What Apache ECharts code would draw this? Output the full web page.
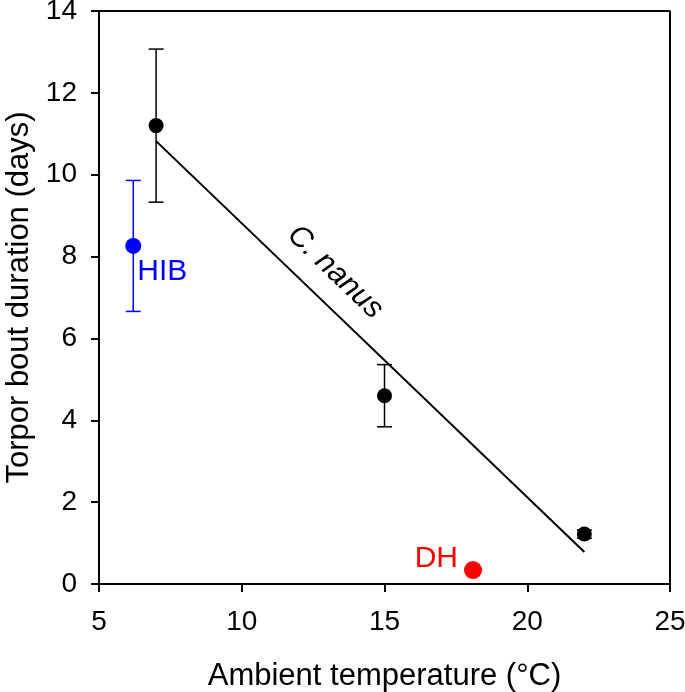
<!DOCTYPE html>
<html>
<head>
<meta charset="utf-8">
<script src="https://cdn.jsdelivr.net/npm/echarts@6/dist/echarts.min.js"></script>
<style>html,body{margin:0;padding:0;background:#fff}#c{width:685px;height:692px}</style>
</head>
<body>
<div id="c"></div>
<script>
// C. nanus: temperature, mean torpor bout duration, SE
const nanusTemp = [7, 15, 22];
const nanusMean = [11.2, 4.6, 1.22];
const nanusErr = [1.87, 0.76, 0.1];
// HIB
const hibTemp = [6.2];
const hibMean = [8.26];
const hibErr = [1.6];
// DH
const dhTemp = [18.1];
const dhMean = [0.34];
// regression line endpoints
const regTemp = [7, 22];
const regVal = [10.82, 0.78];
// label anchor for species name
const speciesLabel = [[13.27, 7.62, 'C. nanus']];
const xTicks = [5, 10, 15, 20, 25];
const yTicks = [0, 2, 4, 6, 8, 10, 12, 14];

const FONT = 'Liberation Sans, Arial, sans-serif';

function errSeries(xs, ms, es, color, cap) {
  return {
    type: 'custom',
    data: xs.map((x, i) => [x, ms[i] - es[i], ms[i] + es[i]]),
    renderItem: function (params, api) {
      const lo = api.coord([api.value(0), api.value(1)]);
      const hi = api.coord([api.value(0), api.value(2)]);
      const style = { stroke: color, lineWidth: 1.5 };
      return {
        type: 'group',
        children: [
          { type: 'line', shape: { x1: lo[0], y1: lo[1], x2: hi[0], y2: hi[1] }, style: style },
          { type: 'line', shape: { x1: lo[0] - cap, y1: lo[1], x2: lo[0] + cap, y2: lo[1] }, style: style },
          { type: 'line', shape: { x1: hi[0] - cap, y1: hi[1], x2: hi[0] + cap, y2: hi[1] }, style: style }
        ]
      };
    },
    z: 2,
    silent: true
  };
}

const chart = echarts.init(document.getElementById('c'));
chart.setOption({
  animation: false,
  grid: { left: 99, right: 15, top: 11, bottom: 108, containLabel: false, outerBoundsMode: 'none' },
  xAxis: {
    type: 'value', min: 5, max: 25, interval: 5,
    name: 'Ambient temperature (°C)', nameLocation: 'middle', nameGap: 77,
    nameTextStyle: { fontFamily: FONT, fontSize: 31, color: '#000' },
    axisLine: { show: true, onZero: false, lineStyle: { color: '#000', width: 2 } },
    axisTick: { show: true, inside: false, length: 8, lineStyle: { color: '#000', width: 2 } },
    axisLabel: { fontFamily: FONT, fontSize: 28, color: '#000', margin: 24,
      formatter: v => xTicks.includes(v) ? String(v) : '' },
    splitLine: { show: false }
  },
  yAxis: {
    type: 'value', min: 0, max: 14, interval: 2,
    name: 'Torpor bout duration (days)', nameLocation: 'middle', nameGap: 63,
    nameTextStyle: { fontFamily: FONT, fontSize: 31, color: '#000' },
    axisLine: { show: true, onZero: false, lineStyle: { color: '#000', width: 2 } },
    axisTick: { show: true, inside: false, length: 8, lineStyle: { color: '#000', width: 2 } },
    axisLabel: { fontFamily: FONT, fontSize: 28, color: '#000', margin: 22,
      formatter: v => yTicks.includes(v) ? String(v) : '' },
    splitLine: { show: false }
  },
  series: [
    {
      type: 'line', data: [[5, 14], [25, 14], [25, 0]], symbol: 'none',
      lineStyle: { color: '#000', width: 2 }, silent: true, z: 1
    },
    {
      type: 'line', data: regTemp.map((x, i) => [x, regVal[i]]), symbol: 'none',
      lineStyle: { color: '#000', width: 2 }, silent: true, z: 2
    },
    errSeries(nanusTemp, nanusMean, nanusErr, '#000', 7.5),
    errSeries(hibTemp, hibMean, hibErr, '#0000ff', 7.5),
    {
      type: 'scatter', data: nanusTemp.map((x, i) => [x, nanusMean[i]]),
      symbol: 'circle', symbolSize: 15, itemStyle: { color: '#000', opacity: 1 }, z: 3
    },
    {
      type: 'scatter', data: hibTemp.map((x, i) => [x, hibMean[i]]),
      symbol: 'circle', symbolSize: 16, itemStyle: { color: '#0000ff', opacity: 1 }, z: 3,
      label: { show: true, formatter: 'HIB', position: [12, 19], color: '#0000ff',
        fontFamily: FONT, fontSize: 30, align: 'left', verticalAlign: 'top' }
    },
    {
      type: 'scatter', data: dhTemp.map((x, i) => [x, dhMean[i]]),
      symbol: 'circle', symbolSize: 18, itemStyle: { color: '#ff0000', opacity: 1 }, z: 3,
      label: { show: true, formatter: 'DH', position: 'left', distance: 6, color: '#ff0000',
        fontFamily: FONT, fontSize: 30, offset: [0, -11] }
    },
    {
      type: 'scatter', data: speciesLabel, symbolSize: 0, silent: true, z: 4,
      itemStyle: { opacity: 1 },
      label: { show: true, position: 'inside', formatter: p => p.data[2], rotate: -44,
        color: '#000', fontFamily: FONT, fontSize: 30, fontStyle: 'italic' }
    }
  ]
});
</script>
</body>
</html>
